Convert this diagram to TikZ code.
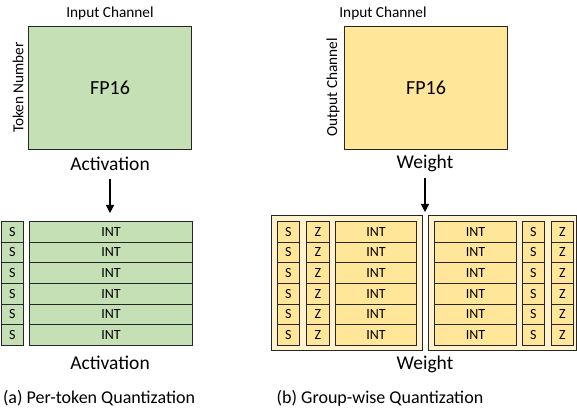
\documentclass[tikz,border=0pt]{standalone}
\usepackage{fontspec}
\setmainfont{Carlito}
\usetikzlibrary{arrows.meta}
\definecolor{gfill}{HTML}{C5E0B4}
\definecolor{yfill}{HTML}{FFE699}
\definecolor{ffill}{HTML}{FFF2CC}
\definecolor{edge}{HTML}{262626}
\tikzset{
  bigbox/.style={draw=edge, line width=1pt, inner sep=0pt, anchor=north west},
  cellbox/.style={draw=edge, line width=0.9pt, inner sep=0pt, anchor=north west, minimum height=20.67pt, font=\fontsize{14}{16}\selectfont},
  grpframe/.style={draw=edge, fill=ffill, line width=0.9pt, inner sep=0pt, anchor=north west},
  axislbl/.style={font=\fontsize{15.3}{18}\selectfont, inner sep=0pt},
  biglbl/.style={font=\fontsize{19.5}{23}\selectfont, inner sep=0pt, anchor=base},
  fplbl/.style={font=\fontsize{20}{24}\selectfont, inner sep=0pt},
  captxt/.style={font=\fontsize{18}{21}\selectfont, inner sep=0pt, anchor=base},
  arr/.style={line width=1.2pt, -{Triangle[length=8pt,width=8pt]}}
}
\begin{document}
\begin{tikzpicture}[x=1pt,y=-1pt]
\useasboundingbox (0,0) rectangle (577,411);
% ---------- left: activation ----------
\node[bigbox, fill=gfill, minimum width=163pt, minimum height=123pt] (actbox) at (28,26) {};
\node[fplbl] (actfp) at (actbox.center) {FP16};
\node[axislbl, anchor=base] (actin) at (110,17.5) {Input Channel};
\node[axislbl, rotate=90] (acttok) at (18,87.5) {Token Number};
\node[biglbl] (actlbl) at (110,170.5) {Activation};
\coordinate (actarrtop) at (110,179);
\coordinate (actarr) at (110,213);
\draw[arr] (actarrtop) -- (actarr);
\foreach \i in {1,...,6}{
  \node[cellbox, fill=gfill, minimum width=22pt] (as\i) at (1,{221+(\i-1)*20.67}) {S};
  \node[cellbox, fill=gfill, minimum width=163pt] (ai\i) at (29,{221+(\i-1)*20.67}) {INT};
}
\node[biglbl] (actlbl2) at (110,369.5) {Activation};
\node[captxt] (capa) at (99,403.5) {(a) Per-token Quantization};
% ---------- right: weight ----------
\node[bigbox, fill=yfill, minimum width=163pt, minimum height=123pt] (wbox) at (344,26) {};
\node[fplbl] (wfp) at (wbox.center) {FP16};
\node[axislbl, anchor=base] (win) at (383,17.5) {Input Channel};
\node[axislbl, rotate=90] (wout) at (333,87.5) {Output Channel};
\node[biglbl] (wlbl) at (425,168.5) {Weight};
\coordinate (warrtop) at (425,178);
\coordinate (warr) at (425,212);
\draw[arr] (warrtop) -- (warr);
\node[grpframe, minimum width=151pt, minimum height=135pt] (fr1) at (271,215) {};
\node[grpframe, minimum width=148pt, minimum height=135pt] (fr2) at (428,215) {};
\foreach \i in {1,...,6}{
  \node[cellbox, fill=yfill, minimum width=22pt] (ws\i) at (277,{221+(\i-1)*20.67}) {S};
  \node[cellbox, fill=yfill, minimum width=23pt] (wz\i) at (306,{221+(\i-1)*20.67}) {Z};
  \node[cellbox, fill=yfill, minimum width=81pt] (wi\i) at (335,{221+(\i-1)*20.67}) {INT};
  \node[cellbox, fill=yfill, minimum width=82pt] (vi\i) at (434,{221+(\i-1)*20.67}) {INT};
  \node[cellbox, fill=yfill, minimum width=22pt] (vs\i) at (522,{221+(\i-1)*20.67}) {S};
  \node[cellbox, fill=yfill, minimum width=22pt] (vz\i) at (551,{221+(\i-1)*20.67}) {Z};
}
\node[biglbl] (wlbl2) at (425,369.5) {Weight};
\node[captxt] (capb) at (380,403.5) {(b) Group-wise Quantization};
\end{tikzpicture}
\end{document}
